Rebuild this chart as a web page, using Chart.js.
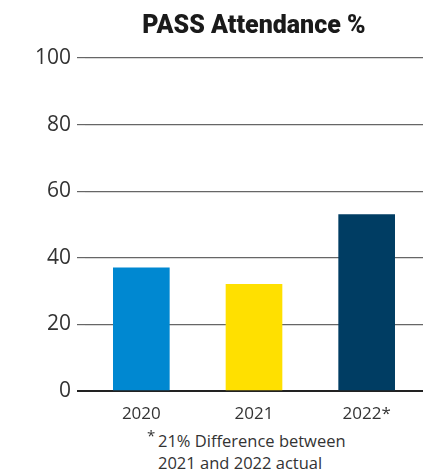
<!DOCTYPE html>
<html>
<head>
<meta charset="utf-8">
<script src="https://cdn.jsdelivr.net/npm/chart.js@4"></script>
<style>
  html, body { margin: 0; padding: 0; background: #fff; }
  #wrap { position: relative; width: 423px; height: 470px; }
  #note {
    position: absolute; left: 158px; top: 430px;
    font-family: 'Open Sans', sans-serif; font-size: 16.5px; line-height: 22px; color: #333;
  }
  #note .star { position: absolute; left: -11px; top: -6px; font-size: 15px; }
</style>
</head>
<body>
<div id="wrap">
  <canvas id="mainChart" width="423" height="425" style="display:block;width:423px;height:425px;"></canvas>
  <div id="note"><span class="star">*</span>21% Difference between<br>2021 and 2022 actual</div>
</div>
<script>
const YEARS = ['2020', '2021', '2022*'];
const ATTENDANCE = [37, 32, 53];
const BAR_COLORS = ['#0088d1', '#ffe000', '#003d63'];
const Y_TICKS = [0, 20, 40, 60, 80, 100];

const FONT = "'Open Sans', sans-serif";

new Chart(document.getElementById('mainChart'), {
  type: 'bar',
  data: {
    labels: YEARS,
    datasets: [{
      data: ATTENDANCE,
      backgroundColor: BAR_COLORS,
      borderWidth: 0,
      barThickness: 56,
    }]
  },
  options: {
    responsive: false,
    animation: false,
    layout: { padding: { left: 0, right: 0, bottom: 0 } },
    plugins: {
      legend: { display: false },
      tooltip: { enabled: false },
      title: {
        display: true,
        fullSize: false,
        text: 'PASS Attendance %',
        color: '#1a1a1a',
        font: { family: 'Roboto', size: 25, weight: '900' },
        padding: { top: 12, bottom: 16 },
      },
    },
    scales: {
      x: {
        grid: { display: false },
        border: { display: false },
        ticks: { color: '#333', font: { family: FONT, size: 17 }, padding: 5 },
        afterFit: s => { s.height = 34; },
      },
      y: {
        min: 0,
        max: 100,
        afterBuildTicks: s => { s.ticks = Y_TICKS.map(v => ({ value: v })); },
        border: { display: false },
        grid: {
          color: c => c.tick.value === 0 ? '#222' : '#666',
          lineWidth: c => c.tick.value === 0 ? 2 : 1.2,
          tickLength: 8,
        },
        ticks: { color: '#333', font: { family: FONT, size: 21 }, padding: 6 },
        afterFit: s => { s.width = 85; },
      },
    },
  },
});
</script>
</body>
</html>
